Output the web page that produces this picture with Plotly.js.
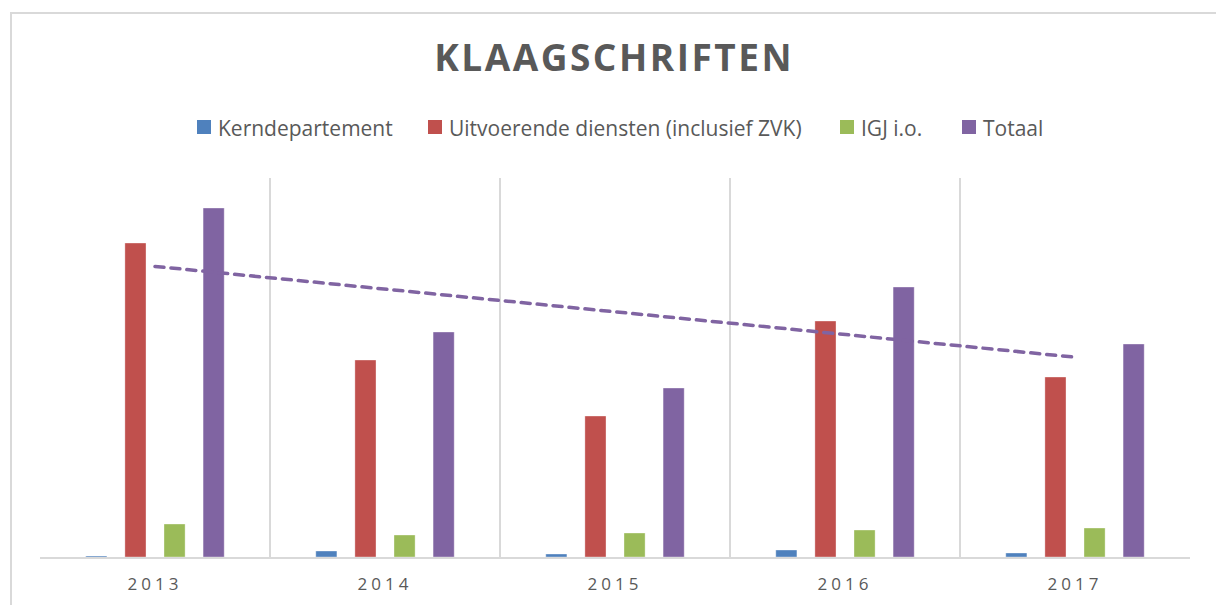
<!DOCTYPE html>
<html>
<head>
<meta charset="utf-8">
<script src="https://cdn.plot.ly/plotly-3.0.1.min.js"></script>
<style>
  html, body { margin: 0; padding: 0; background: #fff; }
  #wrap { position: relative; width: 1216px; height: 605px; overflow: hidden; }
  #frame { position: absolute; left: 10px; top: 12px; width: 1300px; height: 700px;
           border-left: 2px solid #D9D9D9; border-top: 2px solid #D9D9D9; pointer-events: none; }
  #chart { position: absolute; left: 0; top: 0; width: 1216px; height: 605px; }
  .gtitle { letter-spacing: 2.5px; }
  .xtick text { letter-spacing: 4px; }
  .scatterlayer .js-line { stroke-linecap: round; }
</style>
</head>
<body>
<div id="wrap">
  <div id="chart"></div>
  <div id="frame"></div>
</div>
<script>
const years = ['2013', '2014', '2015', '2016', '2017'];
const seriesNames = ['Kerndepartement', 'Uitvoerende diensten (inclusief ZVK)', 'IGJ i.o.', 'Totaal'];
const kerndepartement = [1, 6, 3, 7, 4];
const uitvoerende = [314, 197, 141, 236, 180];
const igj = [33, 22, 24, 27, 29];
const totaal = [349, 225, 169, 270, 213];
const colors = ['#4F81BD', '#C0504D', '#9BBB59', '#8064A2'];

const values = [kerndepartement, uitvoerende, igj, totaal];
const traces = values.map((v, i) => ({
  type: 'bar',
  name: seriesNames[i],
  x: years,
  y: v,
  marker: { color: colors[i], line: { color: 'rgba(255,255,255,0.35)', width: 1 } },
  showlegend: false,
  hoverinfo: 'skip'
}));

// linear trend line of Totaal (least squares)
const n = totaal.length;
const xs = totaal.map((_, i) => i + 1);
const mx = xs.reduce((a, b) => a + b, 0) / n;
const my = totaal.reduce((a, b) => a + b, 0) / n;
let sxy = 0, sxx = 0;
for (let i = 0; i < n; i++) { sxy += (xs[i] - mx) * (totaal[i] - my); sxx += (xs[i] - mx) ** 2; }
const slope = sxy / sxx;
const intercept = my - slope * mx;
traces.push({
  type: 'scatter',
  mode: 'lines',
  x: years,
  y: xs.map(x => intercept + slope * x),
  line: { color: '#8064A2', width: 3.5, dash: '9px,7px' },
  showlegend: false,
  hoverinfo: 'skip'
});

// custom legend (layout only): pixel positions converted to paper coords
const plotL = 40, plotW = 1150, plotB = 557, plotH = 379;
const px = v => (v - plotL) / plotW;
const py = v => (plotB - v) / plotH;
const legendMarkerX = [197, 428, 840, 962];
const legendSize = 14, legendTop = 120, legendTextGap = 5;
const shapes = [], annotations = [];
seriesNames.forEach((name, i) => {
  shapes.push({
    type: 'rect', xref: 'paper', yref: 'paper', layer: 'above',
    x0: px(legendMarkerX[i]), x1: px(legendMarkerX[i] + legendSize),
    y0: py(legendTop + legendSize), y1: py(legendTop),
    fillcolor: colors[i], line: { width: 0 }
  });
  annotations.push({
    xref: 'paper', yref: 'paper', showarrow: false,
    x: px(legendMarkerX[i] + legendSize + legendTextGap), xanchor: 'left',
    y: py(128), yanchor: 'middle',
    text: name,
    font: { family: '"Open Sans", sans-serif', size: 21, color: '#595959' }
  });
});

const layout = {
  width: 1216,
  height: 605,
  margin: { l: 40, r: 26, t: 178, b: 48 },
  paper_bgcolor: '#ffffff',
  plot_bgcolor: '#ffffff',
  font: { family: '"Open Sans", sans-serif', color: '#595959' },
  title: {
    text: '<b>KLAAGSCHRIFTEN</b>',
    font: { family: '"Open Sans", sans-serif', size: 37, color: '#595959' },
    x: 0.505, xanchor: 'center',
    y: 1 - 58 / 605, yanchor: 'middle'
  },
  barmode: 'group',
  bargap: 0.32,
  bargroupgap: 0.46,
  showlegend: false,
  shapes: shapes,
  annotations: annotations,
  xaxis: {
    type: 'category',
    tickson: 'boundaries',
    showgrid: true,
    gridcolor: '#D9D9D9',
    gridwidth: 2,
    ticks: '',
    showline: true,
    linecolor: '#D9D9D9',
    linewidth: 2,
    ticklabelstandoff: 11,
    tickfont: { size: 17, color: '#595959' },
    fixedrange: true
  },
  yaxis: {
    range: [0, 379],
    showgrid: false,
    zeroline: false,
    showticklabels: false,
    showline: false,
    fixedrange: true
  }
};

Plotly.newPlot('chart', traces, layout, { displayModeBar: false, staticPlot: true });
</script>
</body>
</html>
